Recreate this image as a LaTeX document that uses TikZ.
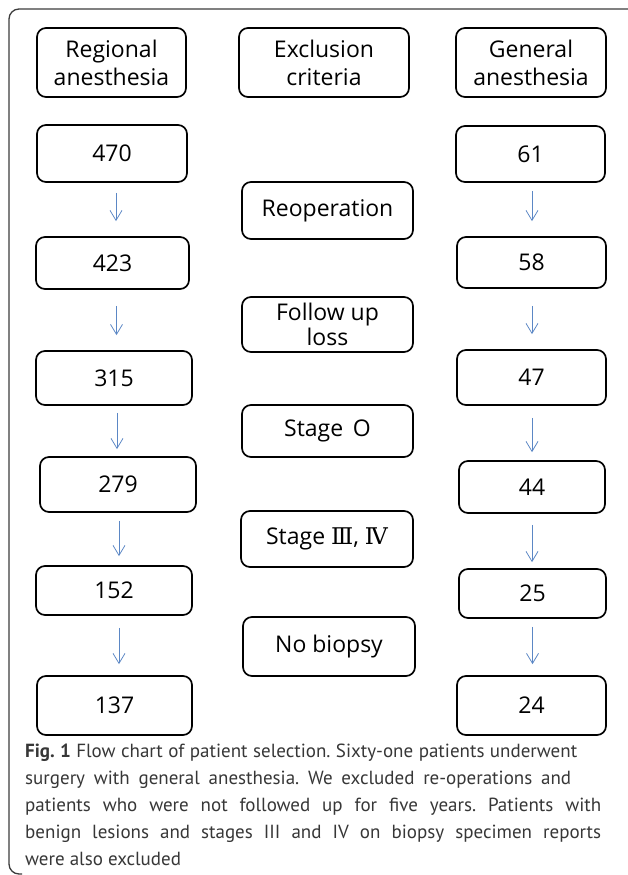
\documentclass[tikz,border=0pt]{standalone}
\usepackage{fontspec}
\setmainfont{Open Sans}
\newfontfamily\capfont{PT Sans}
\newfontfamily\romfont{DejaVu Serif}
\usetikzlibrary{arrows.meta}
\definecolor{arrblue}{RGB}{91,135,197}
\definecolor{framegray}{RGB}{60,60,60}
\definecolor{captext}{RGB}{55,55,55}
\frenchspacing
\begin{document}
\begin{tikzpicture}[x=1pt,y=1pt,
  box/.style={draw=black, line width=1.7pt, rounded corners=9pt, inner sep=0pt, align=center,
    font=\fontsize{23}{28}\selectfont},
  arr/.style={draw=arrblue, line width=0.8pt, -{Straight Barb[length=10pt,width=12pt,line width=0.8pt]}},
  capline/.style={anchor=base west, inner sep=0pt, text=captext, font=\capfont\fontsize{19}{24}\selectfont}]
\useasboundingbox (0,0) rectangle (627,-875);
\fill[white] (0,0) rectangle (627,-875);
% outer frame
\draw[framegray, line width=1.3pt, rounded corners=10pt] (640,-9) -- (9,-9) -- (9,-874) -- (22,-874);

% headers
\node[box, minimum width=149pt, minimum height=69pt] (lh) at (111.5,-62.5) {Regional\\anesthesia};
\node[box, minimum width=170pt, minimum height=69pt] (mh) at (324,-62.5) {Exclusion\\criteria};
\node[box, minimum width=150pt, minimum height=69pt] (rh) at (531,-62.5) {General\\anesthesia};

% left column
\node[box, minimum width=150pt, minimum height=57pt] (l1) at (112,-153.5) {470};
\node[box, minimum width=153pt, minimum height=52pt] (l2) at (112.5,-263) {423};
\node[box, minimum width=156pt, minimum height=54pt] (l3) at (114,-378) {315};
\node[box, minimum width=156pt, minimum height=55pt] (l4) at (118,-484.5) {279};
\node[box, minimum width=156pt, minimum height=49pt] (l5) at (114,-590.5) {152};
\node[box, minimum width=155pt, minimum height=59pt] (l6) at (114.5,-705.5) {137};

% middle column
\node[box, minimum width=171pt, minimum height=57pt] (m1) at (327.5,-210.5) {Reoperation};
\node[box, minimum width=171pt, minimum height=55pt, font=\fontsize{23}{25}\selectfont] (m2) at (327.5,-324.5) {Follow up\\loss};
\node[box, minimum width=171pt, minimum height=52pt] (m3) at (327.5,-431) {Stage\, O};
\node[box, minimum width=172pt, minimum height=56pt] (m4) at (327,-539) {Stage {\romfont Ⅲ}, {\romfont Ⅳ}};
\node[box, minimum width=172pt, minimum height=59pt] (m5) at (329,-646.5) {No biopsy};

% right column
\node[box, minimum width=149pt, minimum height=56pt] (r1) at (530.5,-154) {61};
\node[box, minimum width=149pt, minimum height=51pt] (r2) at (531.5,-262.5) {58};
\node[box, minimum width=149pt, minimum height=55pt] (r3) at (531.5,-377.5) {47};
\node[box, minimum width=146pt, minimum height=52pt] (r4) at (532,-487) {44};
\node[box, minimum width=147pt, minimum height=49pt] (r5) at (532.5,-593.5) {25};
\node[box, minimum width=149pt, minimum height=59pt] (r6) at (531.5,-705.5) {24};

% left arrows
\draw[arr, shorten <=10pt, shorten >=15pt] ([xshift=4pt]l1.south) -- ([xshift=4pt]l1.south |- l2.north);
\draw[arr, shorten <=16pt, shorten >=15pt] ([xshift=4pt]l2.south) -- ([xshift=4pt]l2.south |- l3.north);
\draw[arr, shorten <=7pt, shorten >=7pt] ([xshift=3pt]l3.south) -- ([xshift=3pt]l3.south |- l4.north);
\draw[arr, shorten <=8pt, shorten >=9pt] ([xshift=1pt]l4.south) -- ([xshift=1pt]l4.south |- l5.north);
\draw[arr, shorten <=12pt, shorten >=11pt] ([xshift=5pt]l5.south) -- ([xshift=5pt]l5.south |- l6.north);

% right arrows
\draw[arr, shorten <=8pt, shorten >=15pt] ([xshift=1.5pt]r1.south) -- ([xshift=1.5pt]r1.south |- r2.north);
\draw[arr, shorten <=17pt, shorten >=15pt] ([xshift=0.5pt]r2.south) -- ([xshift=0.5pt]r2.south |- r3.north);
\draw[arr, shorten <=12pt, shorten >=8pt] ([xshift=0.5pt]r3.south) -- ([xshift=0.5pt]r3.south |- r4.north);
\draw[arr, shorten <=11pt, shorten >=6pt] (r4.south) -- (r4.south |- r5.north);
\draw[arr, shorten <=8pt, shorten >=11pt] (r5.south) -- (r5.south |- r6.north);

% caption
\node[capline] (c1) at (25,-757) {\makebox[552pt][s]{\textbf{Fig. 1} Flow chart of patient selection. Sixty-one patients underwent}};
\node[capline] (c2) at (25,-784) {\makebox[546pt][s]{surgery with general anesthesia. We excluded re-operations and}};
\node[capline] (c3) at (25,-811) {\makebox[576pt][s]{patients who were not followed up for five years. Patients with}};
\node[capline] (c4) at (25,-838) {\makebox[576pt][s]{benign lesions and stages III and IV on biopsy specimen reports}};
\node[capline] (c5) at (25,-865) {were also excluded};
\end{tikzpicture}
\end{document}
